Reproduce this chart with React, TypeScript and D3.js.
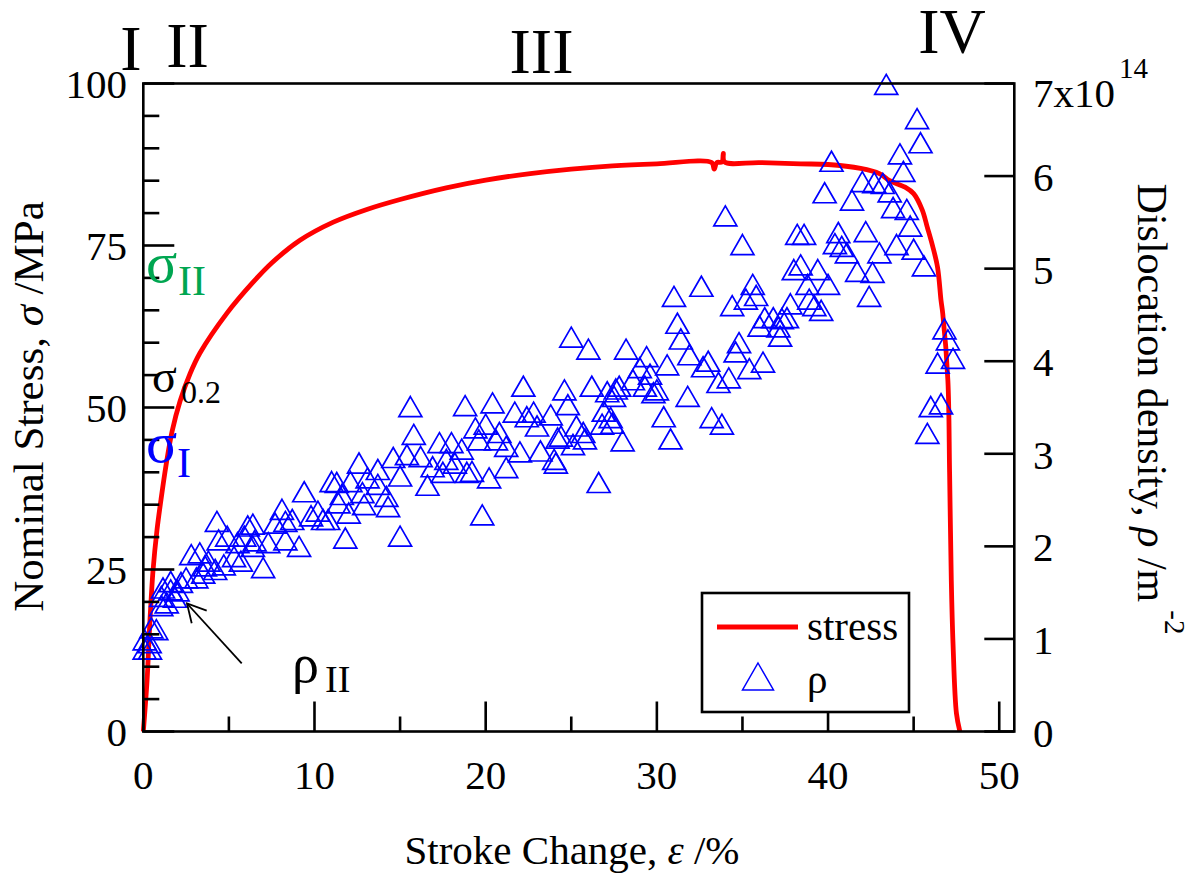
import React from "react";
import * as d3 from "d3";

// ---- stress curve (Stroke change % vs nominal stress MPa)
const strainPct = [
  0, 0.22, 0.39, 0.57, 0.8, 1.03, 1.33, 1.68, 2.15, 2.73, 3.31, 4.9, 6.4, 7.5, 9.15, 11.1,
  13.1, 15.0, 17.7, 20, 22.6, 25, 27.4, 30, 33.2, 33.35, 33.5, 33.8, 33.88, 33.95, 36,
  38.4, 40, 41.9, 43, 43.6, 44.5, 45.0, 45.5, 45.8, 46.1, 46.4, 46.6, 46.7, 47.0, 47.1, 47.2,
  47.3, 47.5, 47.7,
];
const stressMPa = [
  0, 7.9, 17.2, 24.9, 31.1, 35.7, 41.1, 46.3, 51.0, 55.2, 58.4, 64.6, 69.3, 72.3, 75.8, 78.6,
  80.6, 82.1, 83.9, 85.1, 86.1, 86.8, 87.3, 87.6, 87.8, 86.8, 87.8, 87.9, 89.2, 87.9,
  87.8, 87.6, 87.5, 86.9, 86.1, 85.0, 84.0, 83.0, 80.5, 77.8, 75.0, 71.6, 66.5, 64.5, 54.2,
  40, 23.3, 13.6, 2.8, 0,
];

// ---- dislocation density points (strain %, rho in 1e14 m^-2)
const rhoStrain = [
  43.4, 45.2, 45.4, 44.2, 44.4, 40.2, 39.8, 42.0, 42.7, 43.2, 41.4, 43.6, 43.8, 44.6, 44.8,
  34.0, 35.0, 38.2, 38.6, 40.6, 40.4, 40.8, 41.1, 42.2, 44.0, 43.0, 45.0, 45.6, 42.6, 41.7,
  42.4, 38.4, 38.0, 39.4, 38.8, 40.0, 37.8, 38.9, 39.2, 39.6, 35.6, 35.2, 35.8, 34.4, 32.6,
  36.3, 36.8, 37.3, 37.6, 36.0, 37.1, 37.2, 34.8, 34.6, 36.2, 35.4, 34.2, 33.6, 33.0, 32.7,
  33.2, 33.8, 46.8, 47.0, 47.3, 46.4, 46.0, 46.6, 45.8,
  31.0, 31.2, 31.4, 25.0, 26.0, 28.2, 29.4, 30.6, 31.9, 29.0, 29.6, 28.6, 30.0, 27.6, 27.5,
  29.3, 31.8, 30.4, 30.8, 26.2, 22.2, 24.6, 24.8, 26.9, 27.3, 26.8, 27.4, 28.0, 25.3, 25.7,
  24.4, 25.1, 26.6, 20.4, 18.8, 15.6, 21.7, 22.8, 23.8, 22.4, 20.0, 19.4, 20.8, 23.0, 20.6,
  19.6, 24.2, 22.0, 23.2, 24.0, 21.2, 20.2, 19.2, 15.8, 17.3, 18.0, 18.6, 16.2, 15.4, 16.9,
  17.7, 18.2, 16.6, 19.8, 15.0, 15.0, 17.5, 18.9, 21.2, 24.1, 25.8, 27.1, 27.8, 29.8,
  12.6, 13.7, 14.6, 11.0, 11.3, 12.1, 13.1, 13.7, 9.4, 11.6, 12.8, 14.2, 11.4, 12.9, 14.3,
  8.1, 10.2, 9.8, 10.5, 12.0, 10.8, 4.3, 6.1, 6.4, 7.7, 8.3, 8.7, 4.9, 4.4, 5.5, 6.5, 7.3,
  8.3, 9.1, 11.8, 7.0, 2.8, 3.3, 3.8, 4.2, 5.3, 5.7, 4.7, 3.5, 3.1, 2.5, 2.2, 1.6, 1.15,
  2.0, 1.85, 1.05, 1.05, 0.47, 0.76, 0.08, 0.37, 0.08, 0.39, 1.37, 5.9, 6.4, 3.6, 1.6,
];
const rhoValue = [
  6.99, 6.62, 6.36, 6.24, 6.05, 6.16, 5.82, 5.94, 5.93, 5.92, 5.74, 5.83, 5.66, 5.64, 5.46,
  5.57, 5.26, 5.37, 5.37, 5.39, 5.27, 5.24, 5.17, 5.40, 5.26, 5.17, 5.21, 5.03, 4.96, 4.97,
  4.70, 5.04, 4.99, 4.99, 4.83, 4.83, 4.62, 4.67, 4.60, 4.55, 4.83, 4.67, 4.71, 4.60, 4.81,
  4.47, 4.47, 4.46, 4.47, 4.38, 4.37, 4.27, 4.20, 4.10, 3.99, 3.92, 3.82, 3.77, 4.00, 3.94,
  3.39, 3.32, 4.35, 4.23, 4.03, 3.98, 3.51, 3.54, 3.22,
  4.70, 4.41, 4.24, 4.26, 4.13, 4.13, 4.05, 3.96, 4.07, 3.93, 3.86, 3.80, 3.69, 3.70, 3.62,
  3.73, 3.62, 3.40, 3.16, 3.73, 3.73, 3.69, 3.53, 3.46, 3.39, 3.32, 3.33, 3.14, 3.30, 3.23,
  3.19, 3.10, 2.69, 3.55, 3.52, 3.51, 3.45, 3.45, 3.42, 3.40, 3.32, 3.28, 3.23, 3.30, 3.15,
  3.15, 3.17, 3.02, 3.03, 2.94, 2.85, 2.74, 2.81, 3.21, 3.12, 3.12, 3.05, 2.97, 2.99, 2.86,
  2.94, 2.90, 2.66, 2.34, 2.76, 2.11, 2.80, 2.80, 3.08, 2.90, 3.16, 3.67, 3.73, 3.66,
  2.90, 2.83, 2.96, 2.70, 2.69, 2.70, 2.74, 2.67, 2.59, 2.56, 2.58, 2.54, 2.47, 2.45, 2.43,
  2.40, 2.38, 2.33, 2.29, 2.36, 2.29, 2.27, 2.22, 2.24, 2.25, 2.27, 2.29, 2.11, 2.07, 2.04,
  2.06, 2.04, 2.07, 2.00, 2.09, 1.77, 1.91, 1.93, 1.84, 1.75, 1.89, 1.84, 1.80, 1.71, 1.66,
  1.66, 1.61, 1.62, 1.55, 1.52, 1.45, 1.46, 1.36, 1.12, 1.10, 0.99, 0.96, 0.89, 0.89, 1.39,
  2.11, 2.00, 1.79, 1.53,
];

// ---- ticks
const xMajorTicks = [0, 10, 20, 30, 40, 50];
const xMinorTicks = [5, 15, 25, 35, 45];
const yLeftMajorTicks = [0, 25, 50, 75, 100];
const yLeftMinorTicks = [5, 10, 15, 20, 30, 35, 40, 45, 55, 60, 65, 70, 80, 85, 90, 95];
const yRightTicks = [0, 1, 2, 3, 4, 5, 6, 7];
const stageLabels = ["I", "II", "III", "IV"];

const FONT = "'Liberation Serif', 'Times New Roman', Times, serif";
const RED = "#ff0000";
const BLUE = "#0000ff";
const GREEN = "#00a651";

export default function App() {
  const x = d3.scaleLinear().domain([0, 50.88]).range([143.3, 1014.3]);
  const yL = d3.scaleLinear().domain([0, 100]).range([731.5, 83.5]);
  const yR = d3.scaleLinear().domain([0, 7]).range([731.5, 83.5]);

  const curve = strainPct.map((e, i) => [e, stressMPa[i]] as [number, number]);
  const line = d3
    .line<[number, number]>()
    .x((d) => x(d[0]))
    .y((d) => yL(d[1]))
    .curve(d3.curveCatmullRom.alpha(0.5));

  const tri = (cx: number, cy: number, w = 11.5, h = 10) =>
    `M${cx},${cy - h}L${cx + w},${cy + h}L${cx - w},${cy + h}Z`;

  const [x0, x1] = x.range();
  const [yb, yt] = yL.range();

  const stagePos = [
    { cx: 131, y: 70 },
    { cx: 187.5, y: 67 },
    { cx: 541.5, y: 73 },
    { cx: 952, y: 53 },
  ];

  return (
    <svg
      width={1193}
      height={873}
      style={{ position: "absolute", left: 0, top: 0, background: "#fff" }}
      fontFamily={FONT}
    >
      <rect x={0} y={0} width={1193} height={873} fill="#fff" />

      {/* stage labels */}
      {stageLabels.map((s, i) => (
        <text key={s} x={stagePos[i].cx} y={stagePos[i].y} fontSize={64} textAnchor="middle">
          {s}
        </text>
      ))}

      {/* stress curve */}
      <path d={line(curve) || ""} fill="none" stroke={RED} strokeWidth={4.8} strokeLinejoin="round" />

      {/* rho scatter */}
      <g fill="none" stroke={BLUE} strokeWidth={1.7}>
        {rhoStrain.map((e, i) => (
          <path key={i} d={tri(x(e), yR(rhoValue[i]))} />
        ))}
      </g>

      {/* frame */}
      <rect x={x0} y={yt} width={x1 - x0} height={yb - yt} fill="none" stroke="#000" strokeWidth={2.6} />

      {/* ticks */}
      <g stroke="#000" strokeWidth={2.6}>
        {xMajorTicks.map((t) => (
          <line key={"xm" + t} x1={x(t)} x2={x(t)} y1={yb} y2={yb - 30} />
        ))}
        {xMinorTicks.map((t) => (
          <line key={"xn" + t} x1={x(t)} x2={x(t)} y1={yb} y2={yb - 15} />
        ))}
        {yLeftMajorTicks.map((t) => (
          <line key={"ym" + t} x1={x0} x2={x0 + 31} y1={yL(t)} y2={yL(t)} />
        ))}
        {yLeftMinorTicks.map((t) => (
          <line key={"yn" + t} x1={x0} x2={x0 + 16} y1={yL(t)} y2={yL(t)} />
        ))}
        {yRightTicks.map((t) => (
          <line key={"yr" + t} x1={x1} x2={x1 - 30} y1={yR(t)} y2={yR(t)} />
        ))}
      </g>

      {/* tick labels */}
      <g fontSize={41} fill="#000">
        {xMajorTicks.map((t) => (
          <text key={"xl" + t} x={x(t)} y={789} textAnchor="middle">
            {t}
          </text>
        ))}
        {yLeftMajorTicks.map((t) => (
          <text key={"yl" + t} x={127} y={yL(t) + 14} textAnchor="end">
            {t}
          </text>
        ))}
        {yRightTicks.map((t) =>
          t < 7 ? (
            <text key={"rl" + t} x={1033} y={yR(t) + 15} textAnchor="start">
              {t}
            </text>
          ) : (
            <text key={"rl" + t} x={1033} y={yR(t) + 23} textAnchor="start">
              {t + "x10"}
              <tspan fontSize={29} dx={4} dy={-29}>
                14
              </tspan>
            </text>
          )
        )}
      </g>

      {/* axis titles */}
      <text x={572} y={864} fontSize={41} textAnchor="middle">
        Stroke Change, <tspan fontStyle="italic">ε</tspan> /%
      </text>
      <text transform="translate(43,406.5) rotate(-90)" fontSize={43} textAnchor="middle">
        Nominal Stress, <tspan fontStyle="italic">σ</tspan> /MPa
      </text>
      <text transform="translate(1138,409) rotate(90)" fontSize={42} textAnchor="middle">
        Dislocation density, <tspan fontStyle="italic">ρ</tspan> /m
        <tspan fontSize={29} dx={8} dy={-27}>
          -2
        </tspan>
      </text>

      {/* annotations */}
      <text x={146} y={282} fontSize={58} fill={GREEN}>σ</text>
      <text x={178} y={295} fontSize={42} fill={GREEN}>II</text>
      <text x={152} y={392} fontSize={46} fill="#000">σ</text>
      <text x={181} y={403} fontSize={32} fill="#000">0.2</text>
      <text x={146} y={462} fontSize={58} fill={BLUE}>σ</text>
      <text x={177} y={477} fontSize={42} fill={BLUE}>I</text>
      <text x={292} y={682} fontSize={54} fill="#000">ρ</text>
      <text x={325} y={692} fontSize={38} fill="#000">II</text>
      <g stroke="#000" strokeWidth={1.8} fill="none">
        <line x1={241.7} y1={663.3} x2={187} y2={603.5} />
        <polyline points="206.7,610.7 187,603.5 191.7,623.3" />
      </g>

      {/* legend */}
      <rect x={702} y={593} width={207} height={119} fill="#fff" stroke="#000" strokeWidth={2.6} />
      <line x1={717} x2={798} y1={627} y2={627} stroke={RED} strokeWidth={5} />
      <text x={807} y={640} fontSize={41}>stress</text>
      <path d={tri(758, 676.5, 15.5, 13.5)} fill="none" stroke={BLUE} strokeWidth={1.5} />
      <text x={807} y={693} fontSize={41}>ρ</text>
    </svg>
  );
}
